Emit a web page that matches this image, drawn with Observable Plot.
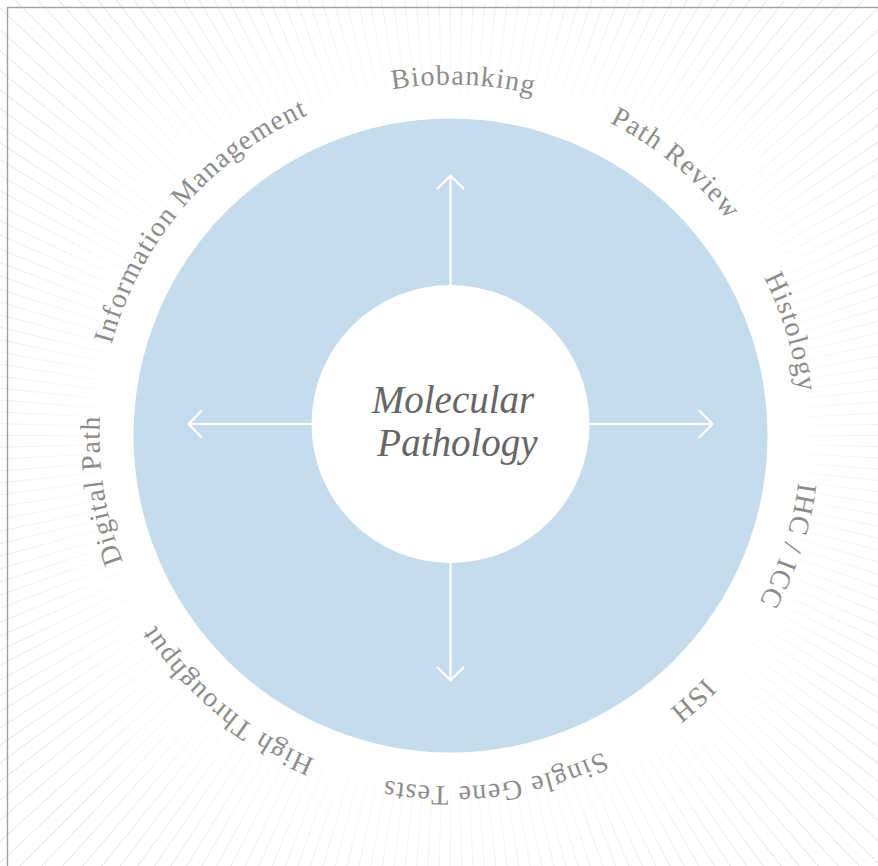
<!DOCTYPE html>
<html>
<head>
<meta charset="utf-8">
<script src="https://cdn.jsdelivr.net/npm/d3@7"></script>
<script src="https://cdn.jsdelivr.net/npm/@observablehq/plot@0.6"></script>
<style>
  html, body { margin: 0; padding: 0; background: #fff; }
  #wrap { width: 878px; height: 866px; overflow: hidden; }
</style>
</head>
<body>
<div id="wrap"></div>
<script>
// ---- data ----
const labels = ["Biobanking", "Path Review", "Histology", "IHC / ICC", "ISH",
  "Single Gene Tests", "High Throughput", "Digital Path", "Information Management"];
const labelAngles = [2, 39.5, 73, 108, 137.5, 172.5, 220, 261, 310.5]; // degrees clockwise from top
const centerTitle = ["Molecular", "Pathology"];
const arrowAngles = [0, 90, 180, 270];        // degrees clockwise from top
const arrowLengths = [248.5, 262, 256.5, 262];  // from inner circle centre to tip
const ringRadii = [317, 139];                  // outer blue disc, inner white disc
const innerOffset = 11.5;                      // inner disc sits a little above the outer centre
const rayStep = 1.5;                           // degrees between background rays

// ---- geometry helpers (1 data unit = 1 px, centre of disc at 0,0, y up) ----
const rad = Math.PI / 180;
const W = 878, H = 866;
const serif = '"Liberation Serif", "Times New Roman", "DejaVu Serif", serif';

// background rays, split into bands that fade towards the disc
const rays = [];
const rayAngles = d3.range(0, 360, rayStep);
const bandEdges = d3.range(300, 740, 20);
for (const a of rayAngles) {
  for (let k = 0; k < bandEdges.length - 1; k++) {
    const r0 = bandEdges[k], r1 = bandEdges[k + 1];
    const rm = (r0 + r1) / 2;
    const o = Math.max(0, Math.min(1, (rm - 320) / 220));
    rays.push({
      x1: r0 * Math.sin(a * rad), y1: r0 * Math.cos(a * rad),
      x2: r1 * Math.sin(a * rad), y2: r1 * Math.cos(a * rad), o
    });
  }
}

// arrows
const arrows = arrowAngles.map((a, i) => ({
  x1: ringRadii[1] * Math.sin(a * rad), y1: innerOffset + ringRadii[1] * Math.cos(a * rad),
  x2: arrowLengths[i] * Math.sin(a * rad), y2: innerOffset + arrowLengths[i] * Math.cos(a * rad)
}));

// labels on the arc, laid out letter by letter
const labelSize = 28;
const letterSpacing = 1.2;
const labelRadius = 351;
const ctx = document.createElement("canvas").getContext("2d");
ctx.font = `${labelSize}px ${serif}`;
const chars = [];
labels.forEach((label, i) => {
  const cs = Array.from(label);
  const ws = cs.map(c => ctx.measureText(c).width);
  const total = d3.sum(ws) + letterSpacing * (cs.length - 1);
  let s = -total / 2;
  cs.forEach((c, j) => {
    const mid = s + ws[j] / 2;
    const th = labelAngles[i] * rad + mid / labelRadius;
    chars.push({ c, x: labelRadius * Math.sin(th), y: labelRadius * Math.cos(th), rot: th / rad });
    s += ws[j] + letterSpacing;
  });
});

const centre = [{ x: 0, y: 0 }];
const innerCentre = [{ x: 0, y: innerOffset }];
const titleRows = centerTitle.map((t, i) => ({ t, x: [2.5, 7][i], y: [23, -20][i] }));

const plot = Plot.plot({
  width: W, height: H,
  margin: 0,
  x: { domain: [-450, W - 450], axis: null },
  y: { domain: [-(H - 435), 435], axis: null },
  marks: [
    Plot.link(rays, {
      x1: "x1", y1: "y1", x2: "x2", y2: "y2",
      stroke: "#e2e2e2", strokeWidth: 1, strokeOpacity: "o", clip: true
    }),
    Plot.dot(centre, { x: "x", y: "y", r: ringRadii[0], fill: "#c4dcec" }),
    Plot.dot(innerCentre, { x: "x", y: "y", r: ringRadii[1], fill: "#ffffff" }),
    Plot.arrow(arrows, {
      x1: "x1", y1: "y1", x2: "x2", y2: "y2",
      stroke: "#ffffff", strokeWidth: 2.2, headAngle: 90, headLength: 12.5
    }),
    Plot.text(chars, {
      x: "x", y: "y", text: "c", rotate: "rot",
      lineAnchor: "bottom", textAnchor: "middle",
      fontSize: labelSize, fontFamily: serif, fill: "#8c8c8c"
    }),
    Plot.text(titleRows, {
      x: "x", y: "y", text: "t", lineAnchor: "bottom", textAnchor: "middle",
      fontSize: 39, fontFamily: serif, fontStyle: "italic", fill: "#666666"
    }),
    Plot.rect([{ x1: -442.5, x2: 460, y1: 427.5, y2: -460 }], {
      x1: "x1", x2: "x2", y1: "y1", y2: "y2",
      fill: "none", stroke: "#a0a0a0", strokeWidth: 1.4
    })
  ]
});
document.getElementById("wrap").appendChild(plot);
</script>
</body>
</html>
